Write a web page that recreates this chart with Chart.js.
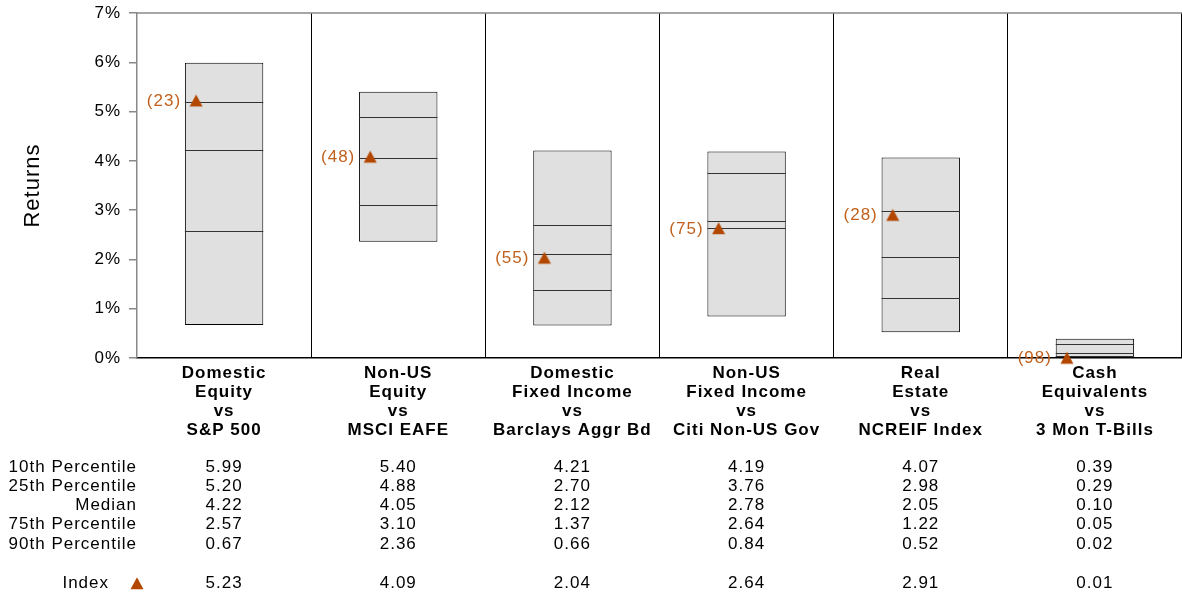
<!DOCTYPE html>
<html>
<head>
<meta charset="utf-8">
<script src="https://cdn.jsdelivr.net/npm/chart.js@4"></script>
<style>
  html, body { margin: 0; padding: 0; background: #fff; overflow: hidden; }
  #wrap { width: 1182px; height: 594px; position: relative; }
  canvas { display: block; }
</style>
</head>
<body>
<div id="wrap"><canvas id="chart"></canvas></div>
<script>
// Category labels (multi-line)
const categories = [
    ['Domestic', 'Equity', 'vs', 'S&P 500'],
    ['Non-US', 'Equity', 'vs', 'MSCI EAFE'],
    ['Domestic', 'Fixed Income', 'vs', 'Barclays Aggr Bd'],
    ['Non-US', 'Fixed Income', 'vs', 'Citi Non-US Gov'],
    ['Real', 'Estate', 'vs', 'NCREIF Index'],
    ['Cash', 'Equivalents', 'vs', '3 Mon T-Bills']
];

// Percentile values
const p10 = [5.99, 5.40, 4.21, 4.19, 4.07, 0.39];
const p25 = [5.20, 4.88, 2.70, 3.76, 2.98, 0.29];
const median = [4.22, 4.05, 2.12, 2.78, 2.05, 0.10];
const p75 = [2.57, 3.10, 1.37, 2.64, 1.22, 0.05];
const p90 = [0.67, 2.36, 0.66, 0.84, 0.52, 0.02];

// Index values and their ranks
const indexValues = [5.23, 4.09, 2.04, 2.64, 2.91, 0.01];
const indexRanks = [23, 48, 55, 75, 28, 98];

const yTicks = [0, 1, 2, 3, 4, 5, 6, 7];

const tableRows = [
    { label: '10th Percentile', values: p10 },
    { label: '25th Percentile', values: p25 },
    { label: 'Median', values: median },
    { label: '75th Percentile', values: p75 },
    { label: '90th Percentile', values: p90 }
];

const ORANGE = '#b34700';
const ORANGE_TEXT = '#c0601c';
const FONT = '"Liberation Sans", Arial, sans-serif';
const MARK_SHIFT = 28; // triangle sits left of the box centre

function drawTriangle(ctx, x, y) {
    ctx.beginPath();
    ctx.moveTo(x, y - 5.8);
    ctx.lineTo(x + 6.5, y + 6.2);
    ctx.lineTo(x - 6.5, y + 6.2);
    ctx.closePath();
    ctx.fill();
}

// point marker: triangle drawn left of the image centre
const marker = document.createElement('canvas');
marker.width = 80;
marker.height = 16;
(() => {
    const m = marker.getContext('2d');
    m.fillStyle = ORANGE;
    drawTriangle(m, 40 - MARK_SHIFT, 8);
})();

// the reference text is set a bit wide, so space the letters out
const spacing = {
    id: 'spacing',
    beforeUpdate(chart) { chart.ctx.letterSpacing = '1px'; },
    beforeDraw(chart) { chart.ctx.letterSpacing = '1px'; }
};

// Quartile lines inside the boxes, top border, rank labels and the data table
const boxExtras = {
    id: 'boxExtras',
    afterDatasetDraw(chart, args) {
        if (args.index !== 0) return;
        const { ctx, scales: { y } } = chart;
        const meta = chart.getDatasetMeta(0);
        ctx.save();
        ctx.strokeStyle = '#333';
        ctx.lineWidth = 1;
        meta.data.forEach((bar, i) => {
            const half = bar.width / 2;
            [p25[i], median[i], p75[i]].forEach(v => {
                const py = Math.round(y.getPixelForValue(v)) + 0.5;
                ctx.beginPath();
                ctx.moveTo(bar.x - half, py);
                ctx.lineTo(bar.x + half, py);
                ctx.stroke();
            });
        });
        ctx.restore();
    },
    afterDraw(chart) {
        const { ctx, chartArea, scales: { x } } = chart;
        ctx.save();
        // top border
        ctx.strokeStyle = '#888';
        ctx.lineWidth = 1.5;
        ctx.beginPath();
        ctx.moveTo(chartArea.left, chartArea.top);
        ctx.lineTo(chartArea.right, chartArea.top);
        ctx.stroke();

        // rank labels next to triangles
        const pts = chart.getDatasetMeta(1).data;
        ctx.font = '17px ' + FONT;
        ctx.fillStyle = ORANGE_TEXT;
        ctx.textAlign = 'right';
        ctx.textBaseline = 'middle';
        pts.forEach((p, i) => {
            ctx.fillText('(' + indexRanks[i] + ')', p.x - MARK_SHIFT - 15, p.y + 1);
        });

        // table
        ctx.fillStyle = '#000';
        const rowY = [467, 486, 505, 524, 544];
        tableRows.forEach((row, r) => {
            ctx.textAlign = 'right';
            ctx.fillText(row.label, 137, rowY[r]);
            ctx.textAlign = 'center';
            row.values.forEach((v, i) => {
                ctx.fillText(v.toFixed(2), x.getPixelForValue(i), rowY[r]);
            });
        });
        const idxY = 583;
        ctx.textAlign = 'right';
        ctx.fillText('Index', 109, idxY);
        ctx.textAlign = 'center';
        indexValues.forEach((v, i) => {
            ctx.fillText(v.toFixed(2), x.getPixelForValue(i), idxY);
        });
        ctx.fillStyle = ORANGE;
        drawTriangle(ctx, 137, idxY);
        ctx.restore();
    }
};

new Chart(document.getElementById('chart'), {
    type: 'bar',
    data: {
        labels: categories,
        datasets: [
            {
                type: 'bar',
                order: 2,
                data: p90.map((v, i) => [v, p10[i]]),
                backgroundColor: '#e0e0e0',
                borderColor: '#000',
                borderWidth: 1,
                borderSkipped: false,
                grouped: false,
                categoryPercentage: 1,
                barPercentage: 0.45
            },
            {
                type: 'line',
                order: 1,
                clip: false,
                data: indexValues,
                showLine: false,
                pointStyle: marker,
                pointRadius: 7,
                pointHoverRadius: 7,
                backgroundColor: ORANGE,
                borderColor: ORANGE
            }
        ]
    },
    options: {
        responsive: true,
        maintainAspectRatio: false,
        animation: false,
        layout: { autoPadding: false, padding: { top: 13, right: 0, bottom: 150, left: 0 } },
        plugins: {
            legend: { display: false },
            tooltip: { enabled: false }
        },
        scales: {
            x: {
                type: 'category',
                offset: true,
                afterFit: scale => { scale.height = 86; scale.paddingLeft = 0; scale.paddingRight = 0; },
                grid: {
                    offset: true,
                    drawTicks: false,
                    color: ctx => ctx.index === 0 ? 'rgba(0,0,0,0)' : '#000',
                    lineWidth: 1
                },
                border: { color: '#000', width: 1.5 },
                ticks: {
                    color: '#000',
                    padding: 6,
                    maxRotation: 0,
                    autoSkip: false,
                    font: { family: FONT, size: 17, weight: 'bold', lineHeight: 1.12 }
                }
            },
            y: {
                min: 0,
                max: 7,
                afterBuildTicks: scale => { scale.ticks = yTicks.map(v => ({ value: v })); },
                afterFit: scale => { scale.width = 137; scale.paddingTop = 0; scale.paddingBottom = 0; },
                grid: { drawOnChartArea: false, color: '#888', tickLength: 8, lineWidth: 1.5 },
                border: { color: '#888', width: 1.5 },
                ticks: {
                    color: '#000',
                    padding: 8,
                    font: { family: FONT, size: 17 },
                    callback: v => v + '%'
                },
                title: {
                    display: true,
                    text: 'Returns',
                    color: '#000',
                    padding: { top: 20, bottom: 0 },
                    font: { family: FONT, size: 22 }
                }
            }
        }
    },
    plugins: [spacing, boxExtras]
});
</script>
</body>
</html>
